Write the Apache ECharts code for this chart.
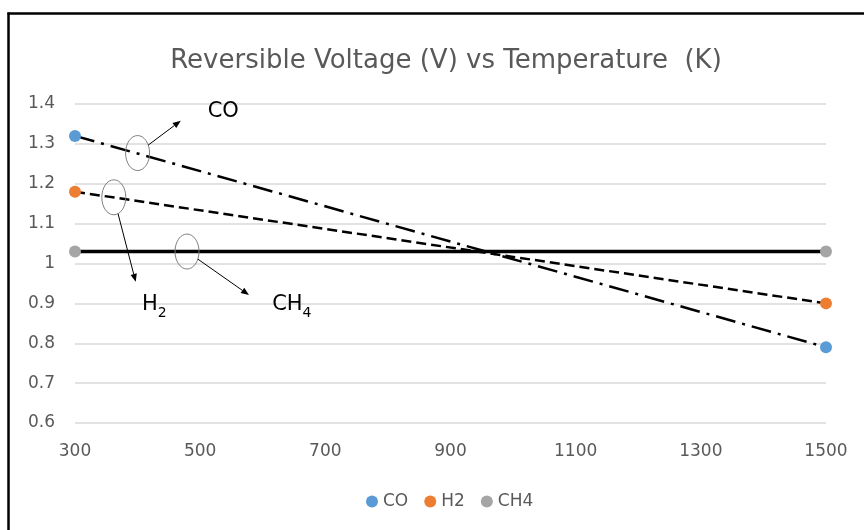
<!DOCTYPE html>
<html><head><meta charset="utf-8">
<script src="https://cdn.jsdelivr.net/npm/echarts@6/dist/echarts.min.js"></script>
<style>html,body{margin:0;padding:0;background:#fff}#c{width:864px;height:530px}</style>
</head><body><div id="c"></div>
<script>
// ---- data ----
const temperatures = [300, 1500];
const coVoltage = [1.32, 0.79];
const h2Voltage = [1.18, 0.90];
const ch4Voltage = [1.03, 1.03];
const seriesNames = ['CO', 'H2', 'CH4'];
const xTickLabels = [300, 500, 700, 900, 1100, 1300, 1500];
const yTickLabels = [0.6, 0.7, 0.8, 0.9, 1.0, 1.1, 1.2, 1.3, 1.4];
const titleText = 'Reversible Voltage (V) vs Temperature  (K)';
// annotation anchors in data coordinates
const annoMain = ['CO', 'H', 'CH'];
const annoSub = ['', '2', '4'];
const annoEllipse = [[400, 1.277], [362, 1.166], [479, 1.03]];
const annoArrowTo = [[469, 1.358], [397, 0.954], [578, 0.921]];
const annoText = [[512, 1.382], [407, 0.898], [615, 0.898]];

const markerColors = ['#5B9BD5', '#ED7D31', '#A5A5A5'];
const FONT = 'DejaVu Sans';

const chart = echarts.init(document.getElementById('c'), null, {renderer: 'canvas'});

function mkSeries(name, vals, color, lineType, width) {
  return {
    name: name, type: 'line',
    data: temperatures.map((t, i) => [t, vals[i]]),
    symbol: 'circle', symbolSize: 12, showSymbol: true,
    itemStyle: {color: color, borderWidth: 0},
    lineStyle: {color: '#000', width: width, type: lineType, cap: 'butt'},
    emphasis: {disabled: true},
    z: 3
  };
}

const option = {
  animation: false,
  backgroundColor: '#fff',
  textStyle: {fontFamily: FONT},
  title: {
    text: titleText, left: 441, top: 43, textAlign: 'center',
    textStyle: {fontFamily: FONT, fontSize: 26, fontWeight: 'normal', color: '#595959'}
  },
  legend: {
    data: seriesNames, left: 361, top: 488,
    icon: 'circle', itemWidth: 12, itemHeight: 12, itemGap: 16,
    textStyle: {fontFamily: FONT, fontSize: 17, color: '#595959'}
  },
  grid: {left: 75, right: 38, top: 104, bottom: 107},
  xAxis: {
    type: 'value', min: 300, max: 1500, interval: 100,
    axisLine: {show: false}, axisTick: {show: false}, splitLine: {show: false},
    axisLabel: {
      margin: 20, fontFamily: FONT, fontSize: 17, color: '#595959', showMinLabel: true, showMaxLabel: true,
      formatter: v => xTickLabels.indexOf(Math.round(v)) >= 0 ? String(Math.round(v)) : ''
    }
  },
  yAxis: {
    type: 'value', min: 0.6, max: 1.4, interval: 0.1,
    axisLine: {show: false}, axisTick: {show: false},
    splitLine: {lineStyle: {color: '#D9D9D9', width: 1.5}},
    axisLabel: {
      margin: 20, fontFamily: FONT, fontSize: 17, color: '#595959',
      formatter: v => {
        const r = yTickLabels.find(t => Math.abs(t - v) < 1e-6);
        return r === undefined ? '' : String(+r.toFixed(1));
      }
    }
  },
  series: [
    mkSeries(seriesNames[0], coVoltage, markerColors[0], [20, 7, 3, 7], 2.5),
    mkSeries(seriesNames[1], h2Voltage, markerColors[1], [10, 5], 2.5),
    mkSeries(seriesNames[2], ch4Voltage, markerColors[2], 'solid', 3.5)
  ]
};
chart.setOption(option);

// ---- annotations (ellipses, arrows, labels) placed through the axes ----
const rx = 12, ry = 17.5;
const g = [];
for (let i = 0; i < annoMain.length; i++) {
  const c = chart.convertToPixel({gridIndex: 0}, annoEllipse[i]);
  const e = chart.convertToPixel({gridIndex: 0}, annoArrowTo[i]);
  const tp = chart.convertToPixel({gridIndex: 0}, annoText[i]);
  g.push({type: 'ellipse', shape: {cx: c[0], cy: c[1], rx: rx, ry: ry},
    style: {fill: 'none', stroke: '#7F7F7F', lineWidth: 1}, z: 10});
  const dx = e[0] - c[0], dy = e[1] - c[1];
  const t = 1 / Math.sqrt((dx / rx) * (dx / rx) + (dy / ry) * (dy / ry));
  const s = [c[0] + dx * t, c[1] + dy * t];
  const len = Math.sqrt(dx * dx + dy * dy);
  const ux = dx / len, uy = dy / len;
  const hl = 8, hw = 3.2;
  const base = [e[0] - ux * hl, e[1] - uy * hl];
  g.push({type: 'line', shape: {x1: s[0], y1: s[1], x2: base[0], y2: base[1]},
    style: {stroke: '#000', lineWidth: 1}, z: 10});
  g.push({type: 'polygon', shape: {points: [e, [base[0] - uy * hw, base[1] + ux * hw], [base[0] + uy * hw, base[1] - ux * hw]]},
    style: {fill: '#000'}, z: 10});
  const txt = annoSub[i] ? '{n|' + annoMain[i] + '}{s|' + annoSub[i] + '}' : '{n|' + annoMain[i] + '}';
  g.push({type: 'text', x: tp[0], y: tp[1], z: 10,
    style: {text: txt, textAlign: 'left', textVerticalAlign: 'middle',
      rich: {
        n: {fontFamily: FONT, fontSize: 21, lineHeight: 32, color: '#000'},
        s: {fontFamily: FONT, fontSize: 14, lineHeight: 14, color: '#000', verticalAlign: 'bottom'}
      }}});
}
// chart border (left and top edges visible)
g.push({type: 'line', shape: {x1: 8.5, y1: 12.5, x2: 8.5, y2: 530}, style: {stroke: '#000', lineWidth: 2.5}, z: 20});
g.push({type: 'line', shape: {x1: 7.5, y1: 13.5, x2: 864, y2: 13.5}, style: {stroke: '#000', lineWidth: 2.5}, z: 20});
chart.setOption({graphic: g});
</script></body></html>
